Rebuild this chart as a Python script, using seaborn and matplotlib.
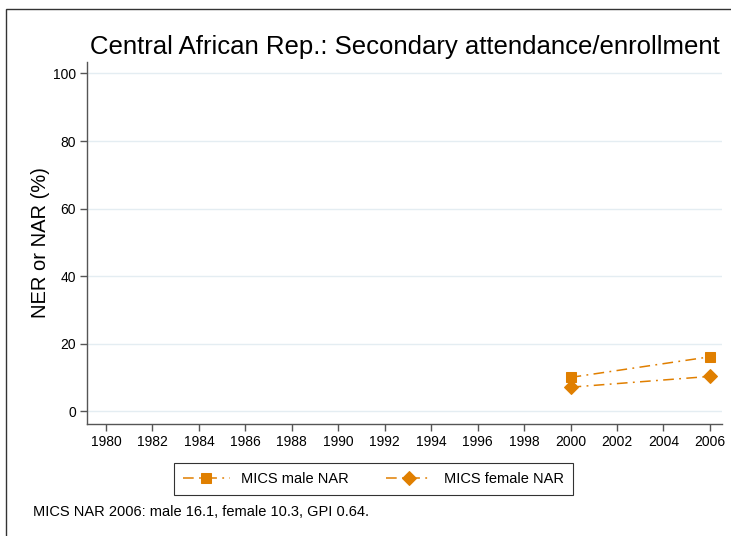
import pandas as pd
import numpy as np
import seaborn as sns
import matplotlib.pyplot as plt
from matplotlib.patches import Rectangle

# data
years = [2000, 2006]
male_nar = [10.0, 16.1]
female_nar = [7.1, 10.3]
xticks = list(range(1980, 2007, 2))
yticks = [0, 20, 40, 60, 80, 100]

sns.set_theme(style='white')
plt.rcParams['font.family'] = ['Liberation Sans', 'DejaVu Sans']
plt.rcParams['text.color'] = 'black'
plt.rcParams['axes.labelcolor'] = 'black'
plt.rcParams['xtick.labelcolor'] = 'black'
plt.rcParams['ytick.labelcolor'] = 'black'

orange = '#e07f00'
dashdot = (0, (7, 3.5, 1.2, 3.5))

df_m = pd.DataFrame({'year': years, 'value': male_nar})
df_f = pd.DataFrame({'year': years, 'value': female_nar})

fig = plt.figure(figsize=(7.31, 5.36), dpi=100)
ax = fig.add_axes([87 / 731, 1 - 424 / 536, (722 - 87) / 731, (424 - 62) / 536])

sns.lineplot(x='year', y='value', data=df_m, ax=ax, color=orange, marker='s',
             markersize=7, markeredgecolor=orange, linewidth=1.1,
             linestyle=dashdot, label='MICS male NAR')
sns.lineplot(x='year', y='value', data=df_f, ax=ax, color=orange, marker='D',
             markersize=7.5, markeredgecolor=orange, linewidth=1.1,
             linestyle=dashdot, label='MICS female NAR')

ax.set_xlim(1979.18, 2006.52)
ax.set_ylim(-3.8, 103.4)
ax.set_xticks(xticks)
ax.set_yticks(yticks)
ax.yaxis.grid(True, color='#e4edf2', linewidth=1)
ax.xaxis.grid(False)
for s in ['top', 'right']:
    ax.spines[s].set_visible(False)
for s in ['left', 'bottom']:
    ax.spines[s].set_color('#555555')
    ax.spines[s].set_linewidth(1)
ax.tick_params(axis='both', which='both', direction='out', length=5, width=1,
               color='#555555', labelsize=10, pad=3, bottom=True, left=True)
ax.set_xlabel('')
ax.set_ylabel('NER or NAR (%)', fontsize=14.5, labelpad=2)
ax.set_title('Central African Rep.: Secondary attendance/enrollment',
             fontsize=18.5, pad=6)

leg = ax.legend(loc='center', bbox_to_anchor=(373.5 / 731, 1 - 479 / 536),
                bbox_transform=fig.transFigure, ncol=2, fontsize=10.5,
                frameon=True, fancybox=False, edgecolor='black',
                handlelength=3.2, columnspacing=2.5, borderpad=0.6)
leg.get_frame().set_linewidth(0.8)

fig.text(33 / 731, 1 - 512 / 536, 'MICS NAR 2006: male 16.1, female 10.3, GPI 0.64.',
         fontsize=10.5, va='center', ha='left')

# outer frame (partly cut off at right/bottom)
fig.patches.append(Rectangle((6 / 731, -0.05), 1.1, 1 - 9 / 536 + 0.05,
                             transform=fig.transFigure, fill=False,
                             edgecolor='#333333', linewidth=1))

fig.savefig('out.png', dpi=100)
